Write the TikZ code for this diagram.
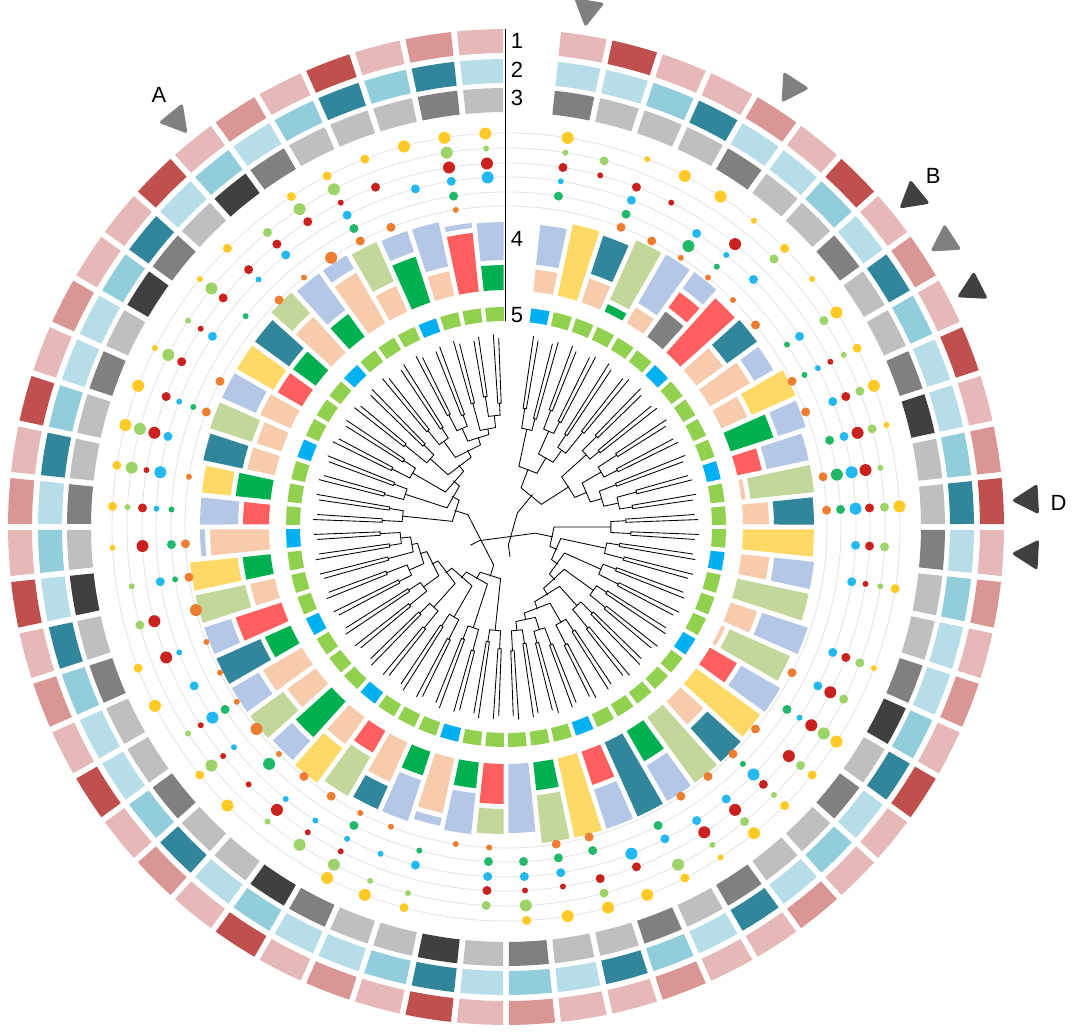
\documentclass[tikz,border=0pt]{standalone}
\usepackage{fontspec}
\setmainfont{Liberation Sans}
% ring colours
\definecolor{r1c1}{HTML}{E6B9B8}\definecolor{r1c2}{HTML}{DA9694}\definecolor{r1c3}{HTML}{C0504D}
\definecolor{r2c1}{HTML}{B7DEE8}\definecolor{r2c2}{HTML}{92CDDC}\definecolor{r2c3}{HTML}{31869B}
\definecolor{r3c1}{HTML}{BFBFBF}\definecolor{r3c2}{HTML}{808080}\definecolor{r3c3}{HTML}{404040}
\definecolor{r5c1}{HTML}{92D050}\definecolor{r5c2}{HTML}{00B0F0}
% bar colours
\definecolor{bLB}{HTML}{B4C7E7}\definecolor{bPE}{HTML}{F8CBAD}\definecolor{bYE}{HTML}{FFD966}
\definecolor{bTE}{HTML}{31869B}\definecolor{bSG}{HTML}{C4D79B}\definecolor{bRD}{HTML}{FF5F5F}
\definecolor{bGR}{HTML}{00B050}\definecolor{bGY}{HTML}{808080}
% dot colours
\definecolor{dO}{HTML}{ED7D31}\definecolor{dG}{HTML}{22B86A}\definecolor{dB}{HTML}{25B8F0}
\definecolor{dR}{HTML}{C9211E}\definecolor{dL}{HTML}{9ED36A}\definecolor{dY}{HTML}{FFC926}
\definecolor{gridc}{HTML}{E3E3E3}
\definecolor{mkG}{HTML}{808080}\definecolor{mkD}{HTML}{404040}

% annular sector with parallel-sided gaps: slot, r_in, r_out, colour, half gap
\newcommand\ringseg[5]{%
  \pgfmathsetmacro\rsT{87-6*#1}%
  \pgfmathsetmacro\rsA{\rsT+3-asin(#5/#2)}%
  \pgfmathsetmacro\rsB{\rsT+3-asin(#5/#3)}%
  \pgfmathsetmacro\rsC{\rsT-3+asin(#5/#2)}%
  \pgfmathsetmacro\rsD{\rsT-3+asin(#5/#3)}%
  \fill[#4] (\rsA:#2) -- (\rsB:#3) arc[start angle=\rsB, end angle=\rsD, radius=#3]
     -- (\rsC:#2) arc[start angle=\rsC, end angle=\rsA, radius=#2] -- cycle;}
% dot: slot, radius, size code, colour
\newcommand\dotat[4]{\ifnum#3>0 \pgfmathsetmacro\dotr{1.5+1.5*#3}%
  \fill[#4] ({87-6*#1}:#2) circle[radius=\dotr];\fi}
% tree branch: u1, r1, u2, r2, R
\newcommand\br[5]{\draw[treeline] ({87-6*#1}:#2) -- ({87-6*#1}:#5) -- ({87-6*#3}:#5) -- ({87-6*#3}:#4);}
% marker triangle: slot, colour
\newcommand\marker[2]{\begin{scope}[rotate={87-6*#1}]
  \fill[#2, rounded corners=3pt] (506,0) -- (533,15.5) -- (533,-15.5) -- cycle;\end{scope}}

\begin{document}
\begin{tikzpicture}[x=1pt,y=1pt,
  treeline/.style={line width=0.85pt, black, line join=miter},
  lab/.style={font=\fontsize{22}{26}\selectfont, inner sep=0pt, text=black}]
\useasboundingbox (0,0) rectangle (1080,1034);
\fill[white] (0,0) rectangle (1080,1034);
\begin{scope}[shift={(506,507)}]
% grid circles of the dot tracks
\foreach \r in {321,335,350,364,379,394} \draw[gridc, line width=0.8pt] (0,0) circle[radius=\r];
% ring 1
\foreach \c [count=\s] in {1,3,1,1,2,1,3,1,2,1,3,1,2,3,1,2,1,2,1,3,1,1,2,1,1,2,1,1,2,1,3,1,2,1,3,1,2,1,3,1,2,1,3,1,2,1,3,1,2,1,1,3,1,2,1,3,1,2,1}
  {\ringseg{\s}{474}{498}{r1c\c}{3}}
% ring 2
\foreach \c [count=\s] in {1,1,2,3,1,1,2,1,3,2,1,1,2,3,1,2,1,1,2,3,1,2,1,3,1,2,3,1,2,1,3,2,1,1,2,1,3,2,1,1,2,3,1,2,1,3,2,1,1,2,3,1,2,1,2,3,2,3,1}
  {\ringseg{\s}{444}{468}{r2c\c}{3}}
% ring 3
\foreach \c [count=\s] in {2,1,1,1,2,1,1,2,1,1,2,3,1,1,2,1,1,2,3,1,2,1,1,2,1,2,1,1,2,1,3,1,1,2,3,1,1,2,1,1,2,1,3,1,2,1,1,2,1,3,2,1,3,2,1,1,1,2,1}
  {\ringseg{\s}{415}{439}{r3c\c}{3}}
% ring 5
\foreach \c [count=\s] in {2,1,1,1,1,1,2,1,1,1,1,2,1,1,1,2,1,1,1,2,1,1,1,1,1,2,1,1,1,1,1,2,1,1,1,2,1,1,1,2,1,1,1,2,1,1,1,2,1,1,1,2,1,1,1,2,1,1,1}
  {\ringseg{\s}{206}{220}{r5c\c}{2.2}}
% track 4: stacked bars
\foreach \s/\segs in {1/{PE/259,LB/304},2/{YE/310},3/{PE/262,TE/307},4/{GR/245,SG/315},5/{PE/255,LB/316},
 6/{GY/268,RD/292,LB/317},7/{RD/310},8/{PE/270,TE/312},9/{PE/283,LB/310},10/{PE/265,YE/318},
 11/{GR/282,LB/316},12/{RD/262,LB/310},13/{PE/241,SG/310},14/{PE/263,TE/308},15/{YE/308},
 16/{PE/265,LB/310},17/{SG/310},18/{PE/265,LB/318},19/{PE/241,SG/312},20/{RD/268,LB/318},
 21/{YE/316},22/{PE/268,TE/318},23/{SG/318},24/{GR/272,LB/318},25/{TE/318},
 26/{RD/272,LB/318},27/{YE/318},28/{GR/265,SG/318},29/{LB/306},30/{RD/277,SG/307},
 31/{GR/263,LB/309},32/{PE/293,LB/306},33/{GR/262,LB/310},34/{PE/280,TE/310},35/{RD/262,SG/312},
 36/{PE/270,YE/318},37/{GR/285,LB/316},38/{PE/272,SG/318},39/{PE/282,LB/318},40/{GR/265,TE/318},
 41/{RD/285,LB/318},42/{PE/262,SG/318},43/{GR/265,YE/318},44/{PE/296,LB/306},45/{RD/263,LB/306},
 46/{GR/272,YE/306},47/{PE/265,TE/310},48/{PE/263,SG/312},49/{PE/270,LB/312},50/{RD/265,YE/312},
 51/{GR/265,TE/312},52/{PE/285,SG/318},53/{GR/265,LB/315},54/{PE/295,LB/315},55/{PE/265,SG/313},
 56/{GR/285,LB/312},57/{PE/262,LB/312},58/{RD/296,LB/306},59/{GR/262,LB/305}}
{\gdef\rst{237}%
 \foreach \c/\e in \segs {\ringseg{\s}{\rst}{\e}{b\c}{2.5}%
   \pgfmathsetmacro\tmpr{\e+5}\global\let\rst\tmpr}}
% dot tracks: orange, green, blue, red, light green, yellow
\foreach \s/\o/\g/\b/\r/\l/\y in {1/0/2/1/2/1/3,2/0/0/0/1/2/0,3/2/2/2/2/0/1,4/2/0/0/1/0/3,5/1/3/2/0/0/3,
 6/1/1/1/3/0/1,7/1/0/2/0/2/2,8/2/0/0/0/0/1,9/0/1/2/0/2/3,10/2/1/1/1/1/2,
 11/2/0/2/2/2/3,12/0/2/2/3/2/1,13/2/3/3/3/1/0,14/2/2/3/2/2/3,15/0/0/2/2/2/0,
 16/0/0/2/1/1/2,17/0/0/0/0/0/0,18/0/0/2/2/2/1,19/2/0/2/3/2/0,20/0/2/1/3/3/3,
 21/2/0/0/3/2/2,22/2/1/3/2/1/2,23/2/0/2/3/2/3,24/2/0/2/3/1/1,25/0/2/2/0/3/2,
 26/0/0/3/2/0/3,27/2/2/0/2/2/3,28/2/2/2/1/0/3,29/0/2/2/1/3/2,30/1/2/2/2/2/0,
 31/1/0/0/0/0/0,32/0/1/2/0/1/2,33/1/0/1/0/1/3,34/1/2/1/1/3/3,35/2/0/1/1/3/0,
 36/2/0/1/3/1/0,37/1/3/0/1/0/3,38/3/0/1/1/3/2,39/1/2/3/1/1/0,40/1/0/2/0/0/3,
 41/1/0/1/3/0/2,42/3/0/0/3/2/0,43/2/1/2/0/1/0,44/2/2/0/3/0/1,45/0/1/1/2/1/2,
 46/1/0/3/1/3/2,47/0/0/2/3/3/3,48/2/1/1/2/0/3,49/2/0/0/2/3/1,50/0/0/2/1/1/0,
 51/0/1/0/2/3/1,52/2/0/1/2/0/2,53/1/0/2/2/2/0,54/3/0/0/2/3/2,55/2/2/2/1/3/2,
 56/2/0/0/2/0/2,57/0/0/2/0/0/3,58/1/2/2/3/3/3,59/0/0/3/3/1/3}
{\dotat{\s}{321}{\o}{dO}\dotat{\s}{335}{\g}{dG}\dotat{\s}{350}{\b}{dB}%
 \dotat{\s}{364}{\r}{dR}\dotat{\s}{379}{\l}{dL}\dotat{\s}{394}{\y}{dY}}
% dendrogram: one narrow cherry per slot
\foreach \k/\R in {1/120,2/112,3/125,4/118,5/110,6/122,7/128,8/120,9/132,10/125,
 11/118,12/135,13/128,14/120,15/125,16/115,17/122,18/118,19/126,20/120,
 21/128,22/122,23/130,24/124,25/132,26/126,27/120,28/118,29/124,30/122,
 31/116,32/128,33/120,34/126,35/118,36/130,37/122,38/124,39/116,40/120,
 41/128,42/122,43/118,44/126,45/124,46/118,47/126,48/120,49/128,50/122,
 51/130,52/116,53/124,54/118,55/126,56/120,57/128,58/132,59/124}
{\pgfmathsetmacro\ua{\k-0.13}\pgfmathsetmacro\ub{\k+0.13}%
 \ifodd\k\relax \def\ta{193}\def\tb{189}\else \def\ta{189}\def\tb{192}\fi
 \br{\ua}{\ta}{\ub}{\tb}{\R}}
% clade A
\br{1}{120}{2}{112}{100}
\br{3}{125}{4}{118}{105}
\br{5}{110}{6}{122}{95}
\br{3.5}{105}{5.5}{95}{80}
\br{1.5}{100}{4.5}{80}{62}
% clade B
\br{7}{128}{8}{120}{108}
\br{9}{132}{10}{125}{110}
\br{12}{135}{13}{128}{115}
\br{11}{118}{12.5}{115}{100}
\br{9.5}{110}{11.75}{100}{88}
\br{7.5}{108}{10.625}{88}{75}
\br{3}{62}{9.0625}{75}{42}
% clade C
\br{14}{120}{15}{125}{105}
\br{16}{115}{17}{122}{102}
\br{18}{118}{19}{126}{104}
\br{20}{120}{21}{128}{108}
\br{22}{122}{23}{130}{106}
\br{24}{124}{25}{132}{110}
\br{26}{126}{27}{120}{108}
\br{28}{118}{29}{124}{104}
\br{26.5}{108}{28.5}{104}{95}
\br{24.5}{110}{27.5}{95}{88}
\br{22.5}{106}{26}{88}{80}
\br{20.5}{108}{24.25}{80}{72}
\br{18.5}{104}{22.375}{72}{64}
\br{16.5}{102}{20.4375}{64}{56}
\br{14.5}{105}{18.46875}{56}{48}
% clade D
\br{30}{122}{31}{116}{104}
\br{32}{128}{33}{120}{106}
\br{34}{126}{35}{118}{104}
\br{36}{130}{37}{122}{108}
\br{38}{124}{39}{116}{102}
\br{40}{120}{41}{128}{106}
\br{43}{118}{44}{126}{106}
\br{42}{122}{43.5}{106}{96}
\br{40.5}{106}{42.75}{96}{90}
\br{38.5}{102}{41.625}{90}{83}
\br{36.5}{108}{40.0625}{83}{76}
\br{34.5}{104}{38.28125}{76}{68}
\br{32.5}{106}{36.390625}{68}{60}
\br{30.5}{104}{34.4453125}{60}{52}
% clade E
\br{45}{124}{46}{118}{104}
\br{47}{126}{48}{120}{106}
\br{49}{128}{50}{122}{108}
\br{51}{130}{52}{116}{102}
\br{53}{124}{54}{118}{106}
\br{55}{126}{56}{120}{108}
\br{58}{132}{59}{124}{112}
\br{57}{128}{58.5}{112}{100}
\br{55.5}{108}{57.75}{100}{94}
\br{53.5}{106}{56.625}{94}{86}
\br{51.5}{102}{55.0625}{86}{78}
\br{49.5}{108}{53.28125}{78}{70}
\br{47.5}{106}{51.390625}{70}{62}
\br{45.5}{104}{49.4453125}{62}{54}
% deep nodes
\br{32.47265625}{52}{47.47265625}{54}{40}
\br{16.484375}{48}{39.97265625}{40}{30}
\br{6.03125}{42}{28.228515625}{30}{18}
% axis line and track numbers
\coordinate (axtop) at (-0.5,498);
\coordinate (axbot) at (-0.5,206);
\draw[line width=1.4pt] (axtop) -- (axbot);
\node[lab] (t1) at (11,486) {1};
\node[lab] (t2) at (11,457) {2};
\node[lab] (t3) at (11,429) {3};
\node[lab] (t4) at (11,288) {4};
\node[lab] (t5) at (11,212) {5};
% markers
\marker{1}{mkG}
\marker{5}{mkG}
\marker{8}{mkD}
\marker{9}{mkG}
\marker{10}{mkD}
\marker{14}{mkD}
\marker{15}{mkD}
\marker{53}{mkG}
\node[lab] (lB) at (39.4:553) {B};
\node[lab] (lD) at (2.5:553) {D};
\node[lab] (lA) at (128.8:554) {A};
\end{scope}
\end{tikzpicture}
\end{document}
